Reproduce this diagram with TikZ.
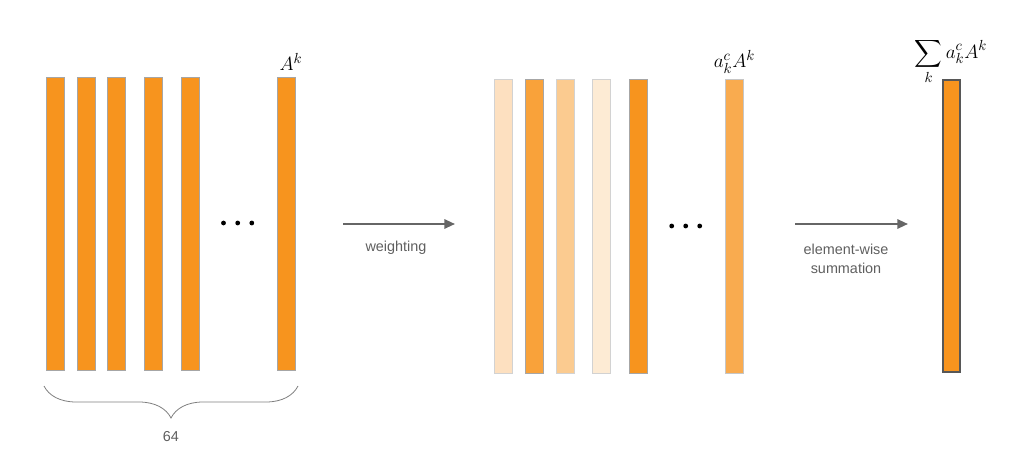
\documentclass[tikz,border=0pt]{standalone}
\usepackage{amsmath}
\usepackage{fontspec}
\setsansfont{Liberation Sans}
\usetikzlibrary{arrows.meta,decorations.pathreplacing}
\definecolor{org}{HTML}{F7941E}
\definecolor{m1}{HTML}{FDE0C0}
\definecolor{m2}{HTML}{F9A23A}
\definecolor{m3}{HTML}{FBCB90}
\definecolor{m4}{HTML}{FDEBD4}
\definecolor{m6}{HTML}{F9AB4F}
\definecolor{txt}{HTML}{5F5F5F}
\definecolor{arr}{HTML}{666666}
\begin{document}
\begin{tikzpicture}[x=0.75pt,y=-0.75pt,
  bar/.style={draw=gray!70,line width=0.6pt,fill=org},
  lbar/.style={draw=gray!35,line width=0.6pt},
  lab/.style={font=\sffamily\fontsize{10.8}{12.8}\selectfont,text=txt,align=center},
  mlab/.style={font=\fontsize{15}{18}\selectfont,inner sep=0pt},
  dot/.style={circle,fill=black,inner sep=0pt,minimum size=3.6pt},
  conn/.style={draw=arr,line width=1.5pt,-{Triangle[length=8pt,width=7pt]}}]
\useasboundingbox (0,0) rectangle (1024,466);
% left group
\foreach \i/\x in {1/46.7,2/77,3/107.7,4/144.3,5/181,6/277}{
  \path[bar] (\x,77) rectangle (\x+18,370);
  \coordinate (L\i) at (\x+9,370);
}
\node[mlab] (Ak) at (291,62) {$A^k$};
\foreach \i/\x in {1/223.5,2/237.7,3/251.8}{\node[dot] (ld\i) at (\x,223) {};}
% middle group
\path[lbar,fill=m1] (494.7,79) rectangle (512.7,373);
\path[bar,fill=m2] (525.3,79) rectangle (543.3,373);
\path[lbar,fill=m3] (556,79) rectangle (574,373);
\path[lbar,fill=m4] (592.7,79) rectangle (610.7,373);
\path[bar,fill=org] (629.3,79) rectangle (647.3,373);
\path[bar,draw=gray!45,fill=m6] (725.3,79) rectangle (743.3,373);
\node[mlab] (aA) at (734.5,62) {$a_k^cA^k$};
\foreach \i/\x in {1/671.7,2/685.7,3/699.7}{\node[dot] (md\i) at (\x,226) {};}
% right bar
\path[draw=arr!85!black,line width=1.5pt,fill=org] (943,80) rectangle (960,372);
\node[mlab,anchor=north] (sum) at (951,38) {$\displaystyle\sum_k a_k^cA^k$};
% arrows
\coordinate (a1s) at (343,224);
\coordinate (a1e) at (455,224);
\draw[conn] (a1s) -- (a1e);
\node[lab] (w) at (396,248) {weighting};
\coordinate (a2s) at (795,224);
\coordinate (a2e) at (908,224);
\draw[conn] (a2s) -- (a2e);
\node[lab] (es) at (846,259) {element-wise\\[1pt]summation};
% brace
\coordinate (b1) at (298,386);
\coordinate (b2) at (44,386);
\draw[txt!80,line width=0.6pt,decoration={brace,amplitude=24pt},decorate] (b1) -- (b2);
\node[lab] (n64) at (171,437) {64};
\end{tikzpicture}
\end{document}
